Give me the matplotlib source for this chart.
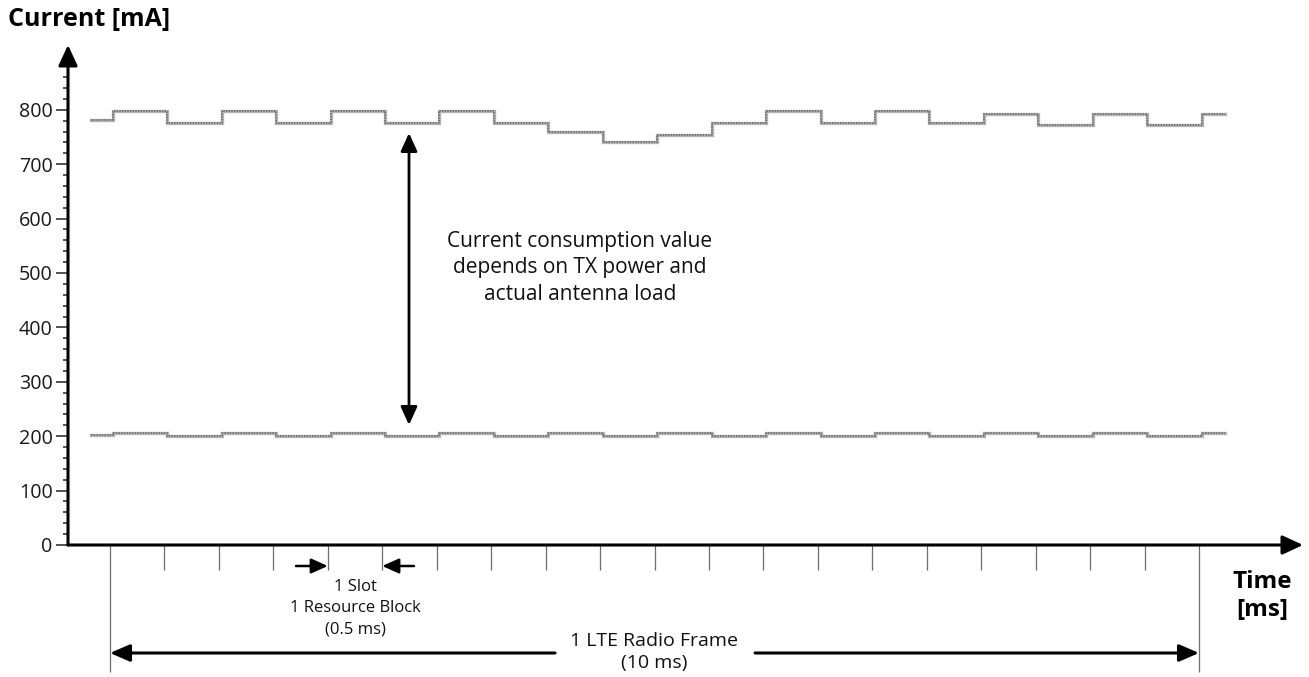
import numpy as np
import matplotlib
matplotlib.use("Agg")
import matplotlib.pyplot as plt
from matplotlib.patches import ArrowStyle

plt.rcParams['font.family'] = ['Open Sans', 'DejaVu Sans']

# ---- data -------------------------------------------------------------
slot_ms = 0.5                      # one slot / resource block
n_slots = 20                       # one LTE radio frame = 10 ms
trace_delay_ms = 0.025             # trace lags the slot grid slightly
pre_ms, post_ms = 0.17, 0.24       # extra capture before/after the frame

# TX current per slot (mA)
tx_pre = 782
tx_slots = [797, 776, 797, 776, 797, 776, 797, 776, 760, 740,
            754, 776, 797, 776, 797, 776, 793, 772, 793, 772]
tx_post = 793

# baseline current per slot (mA)
base_pre = 202
base_slots = [206, 201, 206, 201, 206, 201, 206, 201, 206, 201,
              206, 201, 206, 201, 206, 201, 206, 201, 206, 201]
base_post = 206

y_major = list(range(0, 900, 100))
y_labels = [str(v) for v in y_major]

# ---- layout (pixel geometry of the 1309x677 canvas) -------------------
W_PX, H_PX = 1309, 677
X0_PX, PX_PER_MS = 110, 108.9      # t = 0 ms position and scale
Y0_PX, PX_PER_MA = 545, 0.544      # I = 0 mA position and scale
AX_LEFT_PX, AX_RIGHT_PX, AX_TOP_PX = 68, 1303, 45

def ms(px):
    return (px - X0_PX) / PX_PER_MS

def ma(py):
    return (Y0_PX - py) / PX_PER_MA

fig = plt.figure(figsize=(W_PX / 100, H_PX / 100), dpi=100)
ax = fig.add_axes([AX_LEFT_PX / W_PX, (H_PX - Y0_PX) / H_PX,
                   (AX_RIGHT_PX - AX_LEFT_PX) / W_PX, (Y0_PX - AX_TOP_PX) / H_PX])
ax.set_xlim(ms(AX_LEFT_PX), ms(AX_RIGHT_PX))
ax.set_ylim(0, ma(AX_TOP_PX))
for s in ax.spines.values():
    s.set_visible(False)


def trace(pre, slots, post):
    edges = trace_delay_ms + slot_ms * np.arange(len(slots) + 1)
    x = np.concatenate([[-pre_ms], edges, [n_slots * slot_ms + post_ms]])
    y = np.concatenate([[pre], slots, [post, post]])
    return x, y


for pre, slots, post in [(tx_pre, tx_slots, tx_post), (base_pre, base_slots, base_post)]:
    x, y = trace(pre, slots, post)
    ax.step(x, y, where='post', color='#b4b4b4', lw=2.4, solid_joinstyle='miter')
    ax.step(x, y, where='post', color='#6a6a6a', lw=1.2, dashes=(0.9, 0.7))

# ---- axes with arrow heads --------------------------------------------
axis_arrow = ArrowStyle('-|>', head_length=12.5, head_width=5.8)
ax.annotate('', xy=(0, 1), xytext=(0, 0), xycoords='axes fraction',
            arrowprops=dict(arrowstyle=axis_arrow, lw=2.2, color='black',
                            shrinkA=0, shrinkB=0, mutation_scale=1))
ax.annotate('', xy=(1, 0), xytext=(0, 0), xycoords='axes fraction',
            arrowprops=dict(arrowstyle=axis_arrow, lw=2.2, color='black',
                            shrinkA=0, shrinkB=0, mutation_scale=1))

# y ticks
ax.set_yticks(y_major)
ax.set_yticklabels(y_labels)
ax.set_yticks([v for v in range(20, 900, 20) if v % 100], minor=True)
ax.tick_params(axis='y', which='major', length=8.5, width=1.1, color='#222222',
               labelsize=14.2, pad=2.5, labelcolor='#1a1a1a')
ax.tick_params(axis='y', which='minor', length=3.8, width=1.1, color='#222222')

# x ticks: slot grid, long marks at frame boundaries
ax.set_xticks([slot_ms * k for k in range(1, n_slots)])
ax.set_xticklabels([])
ax.set_xticks([0, n_slots * slot_ms], minor=True)
ax.tick_params(axis='x', which='major', length=18, width=0.9, color='#6e6e6e')
ax.tick_params(axis='x', which='minor', length=91.5, width=0.9, color='#6e6e6e')

# ---- annotations ------------------------------------------------------
dbl = ArrowStyle('<|-|>', head_length=11, head_width=5)
ax.annotate('', xy=(ms(409), ma(133)), xytext=(ms(409), ma(425)),
            arrowprops=dict(arrowstyle=dbl, lw=2.0, color='black',
                            shrinkA=0, shrinkB=0, mutation_scale=1))
ax.text(ms(580), ma(268), 'Current consumption value\ndepends on TX power and\nactual antenna load',
        ha='center', va='center', fontsize=15, linespacing=1.34, color='#111111')

small = ArrowStyle('-|>', head_length=10, head_width=4.5)
ax.annotate('', xy=(4 * slot_ms, ma(566)), xytext=(ms(296), ma(566)),
            arrowprops=dict(arrowstyle=small, lw=1.8, color='black',
                            shrinkA=0, shrinkB=0, mutation_scale=1), annotation_clip=False)
ax.annotate('', xy=(5 * slot_ms, ma(566)), xytext=(ms(414), ma(566)),
            arrowprops=dict(arrowstyle=small, lw=1.8, color='black',
                            shrinkA=0, shrinkB=0, mutation_scale=1), annotation_clip=False)
ax.text(4.5 * slot_ms, ma(608), '1 Slot\n1 Resource Block\n(0.5 ms)',
        ha='center', va='center', fontsize=12, linespacing=1.42, color='#111111')

frame = ArrowStyle('-|>', head_length=12, head_width=5.2)
ax.annotate('', xy=(0, ma(653)), xytext=(ms(555), ma(653)),
            arrowprops=dict(arrowstyle=frame, lw=2.2, color='black',
                            shrinkA=0, shrinkB=0, mutation_scale=1), annotation_clip=False)
ax.annotate('', xy=(n_slots * slot_ms, ma(653)), xytext=(ms(755), ma(653)),
            arrowprops=dict(arrowstyle=frame, lw=2.2, color='black',
                            shrinkA=0, shrinkB=0, mutation_scale=1), annotation_clip=False)
ax.text(n_slots * slot_ms / 2, ma(652), '1 LTE Radio Frame\n(10 ms)',
        ha='center', va='center', fontsize=14, linespacing=1.25, color='#111111')

# axis titles
fig.text(8 / W_PX, 1 - 19 / H_PX, 'Current [mA]', ha='left', va='center',
         fontsize=18, fontweight='bold')
fig.text(1262 / W_PX, 1 - 596 / H_PX, 'Time\n[ms]', ha='center', va='center',
         fontsize=17.5, fontweight='bold', linespacing=1.25)

fig.savefig('out.png', dpi=100)
